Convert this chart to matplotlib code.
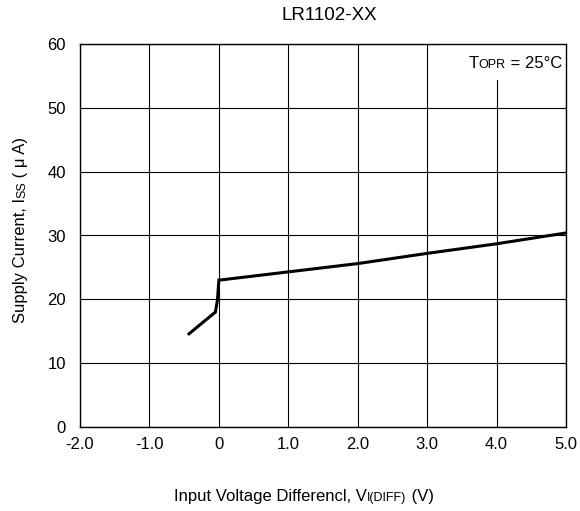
import matplotlib
matplotlib.use("Agg")
import matplotlib.pyplot as plt
from matplotlib.transforms import IdentityTransform
from matplotlib.patches import Rectangle

plt.rcParams['font.family'] = ['Liberation Sans', 'DejaVu Sans']

# curve
v_diff = [-0.43, -0.05, -0.02, 0.0, 1.0, 2.0, 3.0, 4.0, 5.0]
i_ss = [14.6, 18.0, 19.9, 23.0, 24.3, 25.6, 27.2, 28.7, 30.4]

x_ticks = [-2.0, -1.0, 0.0, 1.0, 2.0, 3.0, 4.0, 5.0]
x_tick_labels = ["-2.0", "-1.0", "0", "1.0", "2.0", "3.0", "4.0", "5.0"]
y_ticks = [0, 10, 20, 30, 40, 50, 60]

W, H = 580, 511
fig = plt.figure(figsize=(W / 100, H / 100), dpi=100)
ax = fig.add_axes([80 / W, 84 / H, 486 / W, 383 / H])

ax.plot(v_diff, i_ss, color="black", lw=2.2, solid_joinstyle="miter", zorder=3)

ax.set_xlim(-2.0, 5.0)
ax.set_ylim(0, 60)
ax.set_xticks(x_ticks)
ax.set_xticklabels(x_tick_labels)
ax.set_yticks(y_ticks)
ax.tick_params(length=0, labelsize=12)
ax.tick_params(axis="x", pad=7)
ax.tick_params(axis="y", pad=10)
ax.grid(True, color="black", lw=0.8)
for s in ax.spines.values():
    s.set_linewidth(1.0)
    s.set_zorder(6)

# white patch behind the temperature note (hides the grid line)
ax.add_patch(Rectangle((440 / W, 0), 126 / W, 1, transform=fig.transFigure,
                       facecolor="white", edgecolor="none", zorder=4))
ax.patches[-1].set_bounds(440 / W, 1 - 80 / H, 126 / W, 35 / H)

renderer = fig.canvas.get_renderer()


def text_width(s, size):
    a = fig.text(0, 0, "|" + s + "|", fontsize=size)
    b = fig.text(0, 0, "||", fontsize=size)
    w = a.get_window_extent(renderer).width - b.get_window_extent(renderer).width
    a.remove()
    b.remove()
    return w


def runs_text(runs, x0, y0, rot=0, align="left"):
    # pieces of text sharing one baseline, positions in pixels
    widths = [text_width(s, size) for s, size in runs]
    total = sum(widths)
    start = {"left": 0, "center": -total / 2, "right": -total}[align]
    pos = start
    for (s, size), w in zip(runs, widths):
        if rot == 0:
            x, y = x0 + pos, y0
        else:
            x, y = x0, y0 + pos
        fig.text(x, y, s, fontsize=size, rotation=rot, rotation_mode="anchor",
                 ha="left", va="baseline", transform=IdentityTransform(), zorder=7)
        pos += w


fig.text(329, H - 20, "LR1102-XX", fontsize=13.5, ha="center", va="baseline",
         transform=IdentityTransform())

runs_text([("T", 12), ("OPR", 9), (" = 25°C", 12)], 562, H - 68, align="right")

runs_text([("Supply Current, I", 12), ("SS", 9), (" ( μ A)", 12)], 25, H - 230,
          rot=90, align="center")

runs_text([("Input Voltage Differencl, V", 12), ("I(DIFF)", 9), (" (V)", 12)],
          304, H - 501, align="center")

fig.savefig("out.png", dpi=100)
